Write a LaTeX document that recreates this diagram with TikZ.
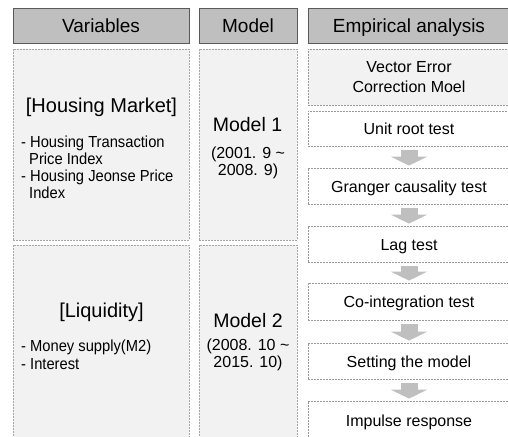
\documentclass[tikz,border=0pt]{standalone}
\usepackage{fontspec}
\setmainfont{Liberation Sans}
\usetikzlibrary{positioning}
\usetikzlibrary{arrows.meta}

\tikzset{
    headbox/.style={draw=black!65, fill=black!25, line width=0.8pt,
        minimum height=35pt, text height=14pt, text depth=0pt,
        font=\fontsize{19}{22}\selectfont},
    panelbox/.style={draw=black!35, fill=black!5, line width=0.8pt,
        dash pattern=on 2pt off 1pt},
    stepframe/.style={draw=black!40, fill=white, line width=0.8pt,
        dash pattern=on 2pt off 1pt, minimum width=202pt,
        font=\fontsize{16}{20}\selectfont, align=center},
    stepbox/.style={stepframe, minimum height=36pt, text height=12pt, text depth=0pt},
    titletext/.style={inner sep=0pt, anchor=base, font=\fontsize{20}{24}\selectfont},
    itemtext/.style={inner sep=0pt, anchor=base west,
        font=\fontsize{16}{18}\selectfont\addfontfeature{FakeStretch=0.92}},
    periodtext/.style={inner sep=0pt, anchor=base, font=\fontsize{16}{18}\selectfont},
    flowarrow/.style={line width=17pt, draw=black!25,
        -{Triangle[width=36pt,length=9pt]}, shorten <=4pt, shorten >=2pt}
}

\begin{document}
\begin{tikzpicture}[x=1pt, y=-1pt]
    \useasboundingbox (0,0) rectangle (508,436);
    \clip (0,0) rectangle (508,436);

    % header row
    \node[headbox, minimum width=176pt] (hvar) at (101,25.5) {Variables};
    \node[headbox, minimum width=98pt] (hmod) at (248,25.5) {Model};
    \node[headbox, minimum width=202pt] (hemp) at (409,25.5) {Empirical analysis};

    % variables
    \node[panelbox, minimum width=176pt, minimum height=191pt] (pvar1) at (101,144.5) {};
    \node[panelbox, minimum width=176pt, minimum height=200pt] (pvar2) at (101,345) {};
    \node[titletext] (house) at (101.5,112) {[Housing Market]};
    \node[itemtext] (h1) at (21,147) {- Housing Transaction};
    \node[itemtext] (h2) at (29,164) {Price Index};
    \node[itemtext] (h3) at (21,181) {- Housing Jeonse Price};
    \node[itemtext] (h4) at (29,198) {Index};
    \node[titletext] (liq) at (101.5,317) {[Liquidity]};
    \node[itemtext] (l1) at (21,351) {- Money supply(M2)};
    \node[itemtext] (l2) at (21,369) {- Interest};

    % models
    \node[panelbox, minimum width=98pt, minimum height=191pt] (pmod1) at (248,144.5) {};
    \node[panelbox, minimum width=98pt, minimum height=200pt] (pmod2) at (248,345) {};
    \node[titletext, font=\fontsize{19.5}{22}\selectfont] (m1) at (247.5,131) {Model 1};
    \node[periodtext] (m1a) at (248,158) {(2001. 9 \textasciitilde};
    \node[periodtext] (m1b) at (248,175) {2008. 9)};
    \node[titletext, font=\fontsize{19.5}{22}\selectfont] (m2) at (248,327) {Model 2};
    \node[periodtext] (m2a) at (248,350) {(2008. 10 \textasciitilde};
    \node[periodtext] (m2b) at (248,367) {2015. 10)};

    % empirical analysis
    \node[stepframe, fill=black!5, minimum height=56pt] (vecm) at (409,77) {Vector Error\\Correction Moel};
    \node[stepbox, minimum height=35pt] (unit) at (409,128.5) {Unit root test};
    \node[stepbox] (gran) at (409,186) {Granger causality test};
    \node[stepbox] (lag) at (409,244) {Lag test};
    \node[stepbox, minimum height=37pt] (coint) at (409,301.5) {Co-integration test};
    \node[stepbox] (sett) at (409,361) {Setting the model};
    \node[stepbox, minimum height=39pt] (imp) at (409,420.5) {Impulse response};

    % block arrows between the steps
    \draw[flowarrow] (unit) -- (gran);
    \draw[flowarrow] (gran) -- (lag);
    \draw[flowarrow] (lag) -- (coint);
    \draw[flowarrow] (coint) -- (sett);
    \draw[flowarrow] (sett) -- (imp);
\end{tikzpicture}
\end{document}
